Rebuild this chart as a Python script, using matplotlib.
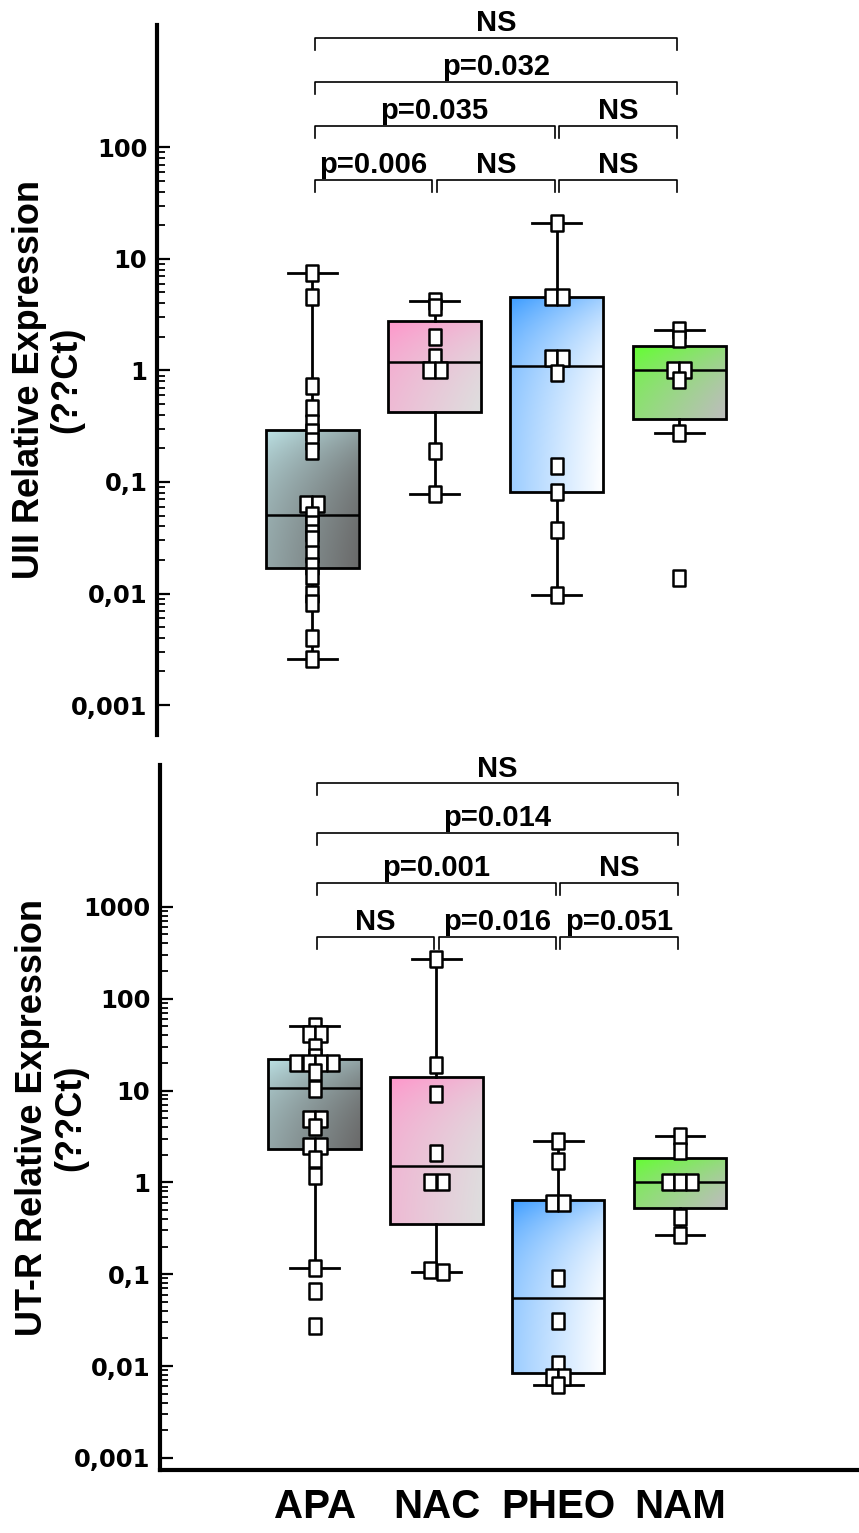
import numpy as np
import matplotlib
matplotlib.use("Agg")
import matplotlib.pyplot as plt
from matplotlib.colors import to_rgb
from matplotlib.path import Path
from matplotlib.ticker import NullFormatter

plt.rcParams['font.family'] = ['Liberation Sans', 'DejaVu Sans']

groups = ["APA", "NAC", "PHEO", "NAM"]

# UII relative expression (top panel), individual samples
uii_apa = [7.5, 4.6, 0.72, 0.46, 0.34, 0.28, 0.235, 0.19, 0.064, 0.064, 0.051,
           0.042, 0.035, 0.031, 0.0226, 0.0177, 0.0144, 0.010, 0.0083, 0.0040, 0.0026]
uii_nac = [4.2, 3.7, 2.0, 1.33, 1.0, 1.0, 0.188, 0.078]
uii_pheo = [20.9, 4.6, 4.6, 1.3, 1.3, 0.94, 0.138, 0.082, 0.037, 0.0098]
uii_nam = [2.3, 1.9, 1.0, 1.0, 0.82, 0.277, 0.0139]

# box summaries as drawn in the figure: (whislo, q1, med, q3, whishi)
uii_box = [(0.0026, 0.017, 0.051, 0.295, 7.5),
           (0.078, 0.425, 1.18, 2.77, 4.2),
           (0.0098, 0.082, 1.1, 4.6, 20.9),
           (0.277, 0.37, 1.0, 1.66, 2.3)]

# UT-R relative expression (bottom panel)
utr_apa = [50, 41, 41, 30, 23, 20, 20, 20, 20, 16, 10.3, 4.9, 4.9, 4.0, 2.5, 2.5,
           1.8, 1.16, 0.118, 0.065, 0.027]
utr_nac = [270, 18.9, 9.1, 2.1, 1.0, 1.0, 0.11, 0.107]
utr_pheo = [2.8, 1.7, 0.6, 0.6, 0.09, 0.031, 0.0105, 0.0077, 0.0077, 0.0063]
utr_nam = [3.2, 2.2, 1.0, 1.0, 1.0, 0.42, 0.27]

utr_box = [(0.118, 2.3, 10.6, 22, 50),
           (0.107, 0.35, 1.5, 13.9, 270),
           (0.0063, 0.0085, 0.055, 0.65, 2.8),
           (0.27, 0.52, 1.0, 1.83, 3.2)]

# comparisons: (group a, group b, label, row)
uii_tests = [(0, 1, "p=0.006", 0), (1, 2, "NS", 0), (2, 3, "NS", 0),
             (0, 2, "p=0.035", 1), (2, 3, "NS", 1),
             (0, 3, "p=0.032", 2), (0, 3, "NS", 3)]
utr_tests = [(0, 1, "NS", 0), (1, 2, "p=0.016", 0), (2, 3, "p=0.051", 0),
             (0, 2, "p=0.001", 1), (2, 3, "NS", 1),
             (0, 3, "p=0.014", 2), (0, 3, "NS", 3)]

grad_colors = [("#bde3e6", "#6a6a6a"), ("#ff96cb", "#dedede"),
               ("#3a9bff", "#ffffff"), ("#62ff30", "#bdbdbd")]

positions = np.arange(1, 5)

box_marker = Path([(-0.39, -0.5), (0.39, -0.5), (0.39, 0.5), (-0.39, 0.5), (-0.39, -0.5)],
                  [Path.MOVETO, Path.LINETO, Path.LINETO, Path.LINETO, Path.CLOSEPOLY])


def spread(values, step=0.1, tol=0.02):
    lv = np.log10(np.asarray(values, float))
    offs = np.zeros(len(lv))
    used = np.zeros(len(lv), bool)
    for i in range(len(lv)):
        if used[i]:
            continue
        idx = [j for j in range(len(lv)) if not used[j] and abs(lv[j] - lv[i]) < tol]
        for k, j in enumerate(idx):
            offs[j] = (k - (len(idx) - 1) / 2) * step
            used[j] = True
    return offs


def gradient_fill(ax, patch, c1, c2):
    v = patch.get_path().vertices
    x0, x1 = v[:, 0].min(), v[:, 0].max()
    y0, y1 = v[:, 1].min(), v[:, 1].max()
    n = 80
    u = np.linspace(0, 1, n)
    t = (u[None, :] + u[:, None]) / 2
    a, b = np.array(to_rgb(c1)), np.array(to_rgb(c2))
    img = a + (b - a) * t[..., None]
    im = ax.imshow(img, extent=[x0, x1, y0, y1], origin='upper', aspect='auto',
                   interpolation='bilinear', zorder=1.5)
    im.set_clip_path(patch)


def panel(ax, samples, boxes, tests, ylim, top_exp, ylabel, row_y, drop):
    stats = [dict(whislo=b[0], q1=b[1], med=b[2], q3=b[3], whishi=b[4], fliers=[])
             for b in boxes]
    art = ax.bxp(stats, positions=positions, widths=0.76, capwidths=0.4,
                 patch_artist=True, showfliers=False,
                 boxprops=dict(facecolor='none', edgecolor='black', linewidth=2.0),
                 whiskerprops=dict(color='black', linewidth=2.0),
                 capprops=dict(color='black', linewidth=2.0),
                 medianprops=dict(color='black', linewidth=1.8))
    for patch, (c1, c2) in zip(art['boxes'], grad_colors):
        gradient_fill(ax, patch, c1, c2)

    for pos, vals in zip(positions, samples):
        ax.plot(pos + spread(vals), vals, linestyle='none', marker=box_marker,
                markersize=11, markerfacecolor='white', markeredgecolor='black',
                markeredgewidth=1.8, zorder=4)

    trans = ax.get_xaxis_transform()
    gap = 0.018
    for a, b, label, row in tests:
        x0, x1 = positions[a] + gap, positions[b] - gap
        y = row_y[row]
        ax.plot([x0, x0, x1, x1], [y - drop, y, y, y - drop], color='black',
                linewidth=1.2, transform=trans, clip_on=False)
        ax.text((x0 + x1) / 2, y + 0.001, label, transform=trans, ha='center',
                va='bottom', fontsize=21, fontweight='bold')

    ax.set_yscale('log')
    ax.set_xlim(-0.27, 5.47)
    ax.set_ylim(*ylim)
    major = [10.0 ** e for e in range(-3, top_exp + 1)]
    labels = [f"{m:g}".replace('.', ',') for m in major]
    ax.set_yticks(major, labels)
    minor = [m * 10.0 ** e for e in range(-3, top_exp) for m in range(2, 10)]
    ax.set_yticks(minor, minor=True)
    ax.yaxis.set_minor_formatter(NullFormatter())
    ax.tick_params(axis='y', which='major', direction='in', length=9, width=1.6,
                   pad=7, labelsize=17.5)
    ax.tick_params(axis='y', which='minor', direction='in', length=5.5, width=1.3)
    for lab in ax.get_yticklabels():
        lab.set_fontfamily('DejaVu Sans')
        lab.set_fontweight('bold')
    ax.spines['top'].set_visible(False)
    ax.spines['right'].set_visible(False)
    ax.spines['left'].set_linewidth(3.0)
    ax.set_ylabel(ylabel, fontsize=26, fontweight='bold', linespacing=1.1)
    ax.yaxis.set_label_coords(-0.103, 0.5)


fig = plt.figure(figsize=(8.59, 15.33), dpi=100)
ax1 = fig.add_axes([0.1828, 0.5206, 0.8172, 0.4631])
ax2 = fig.add_axes([0.1863, 0.0411, 0.8137, 0.4599])

panel(ax1, [uii_apa, uii_nac, uii_pheo, uii_nam], uii_box, uii_tests,
      (5.4e-4, 1250), 2, "UII Relative Expression\n(??Ct)",
      [0.782, 0.858, 0.920, 0.982], 0.017)
ax1.spines['bottom'].set_visible(False)
ax1.set_xticks([])

panel(ax2, [utr_apa, utr_nac, utr_pheo, utr_nam], utr_box, utr_tests,
      (7.4e-4, 35000), 3, "UT-R Relative Expression\n(??Ct)",
      [0.756, 0.833, 0.904, 0.974], 0.017)
ax2.spines['bottom'].set_linewidth(3.0)
ax2.set_xticks(positions, groups)
ax2.tick_params(axis='x', length=0, pad=13, labelsize=29)
for lab in ax2.get_xticklabels():
    lab.set_fontweight('bold')

plt.savefig("out.png", dpi=100, facecolor="white")
